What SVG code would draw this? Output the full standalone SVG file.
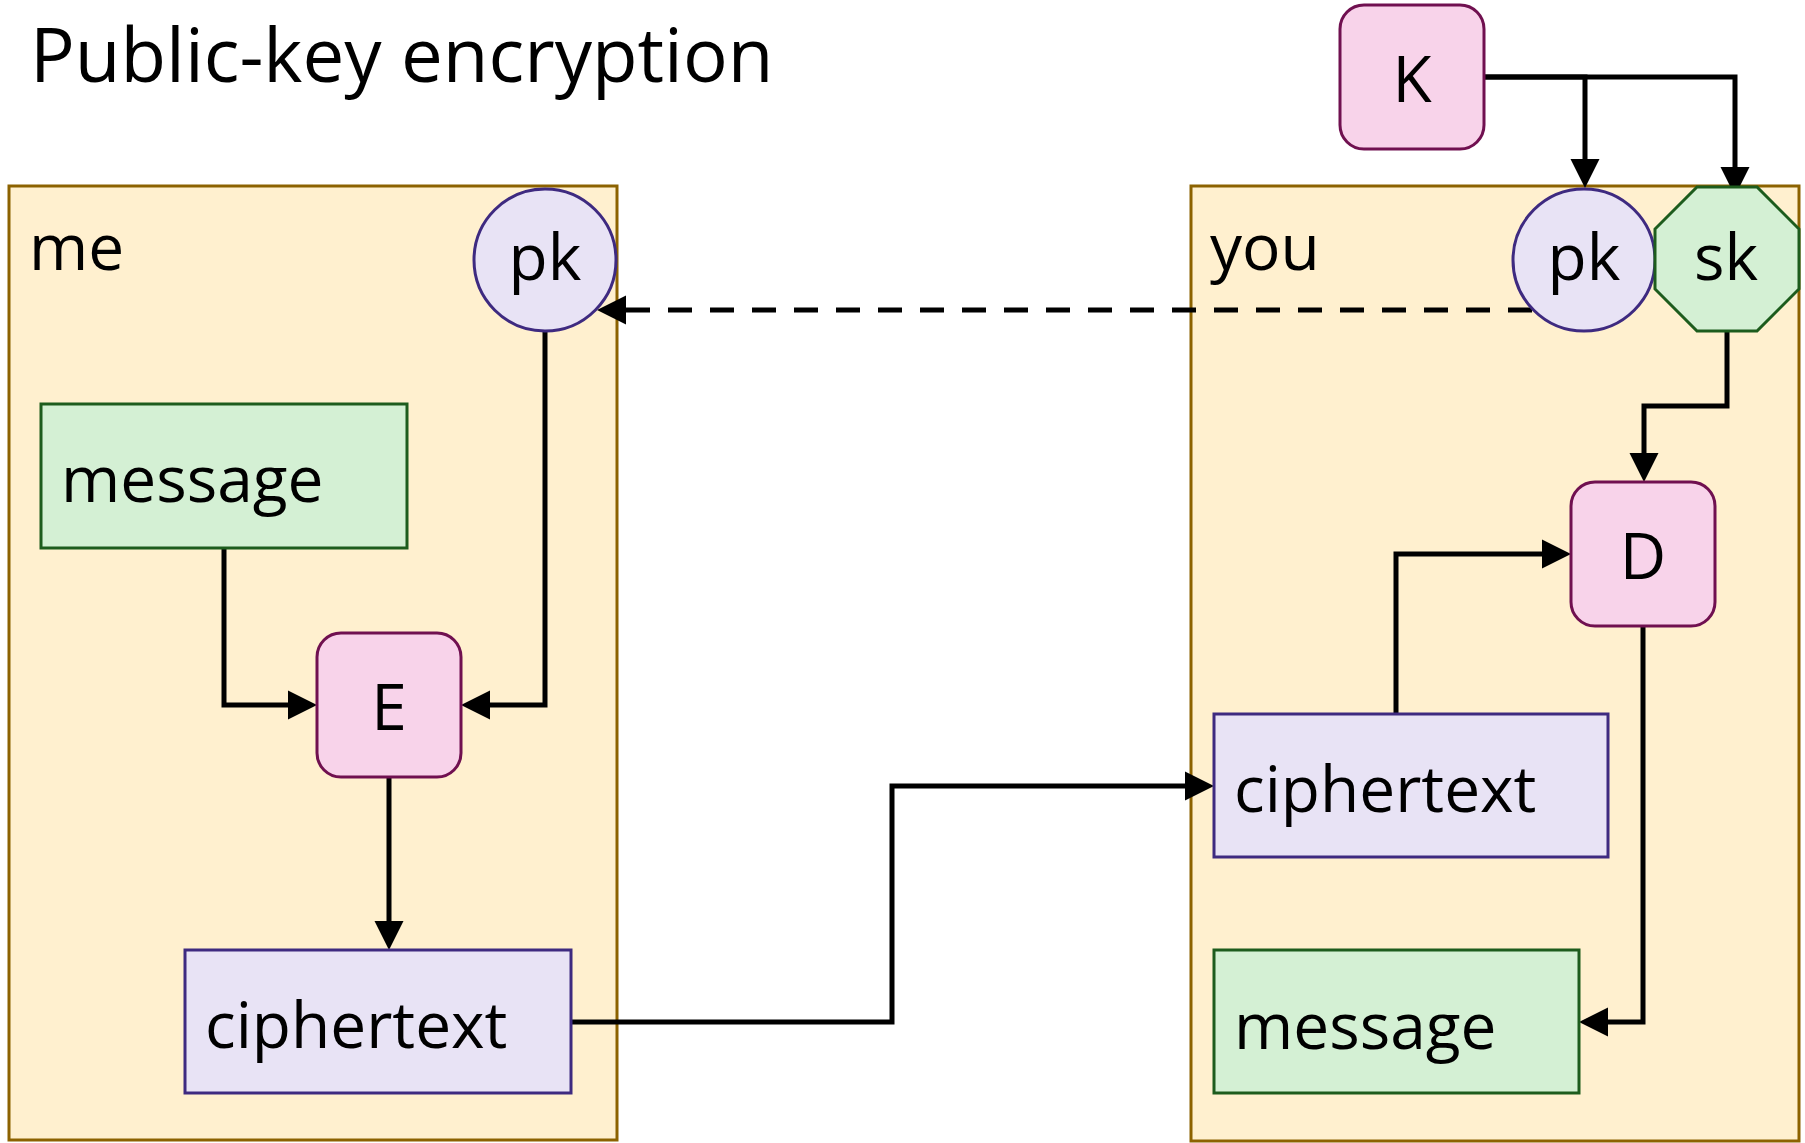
<svg xmlns="http://www.w3.org/2000/svg" width="1805" height="1143" viewBox="0 0 1805 1143">
<style>
text{font-family:"Open Sans","Noto Sans","Liberation Sans",sans-serif;font-size:64px;fill:#000}
.title{font-size:74.5px}
.mid{text-anchor:middle}
.frame{fill:#fff0cf;stroke:#8c6200;stroke-width:3}
.pink{fill:#f8d3ea;stroke:#701050;stroke-width:3}
.lav{fill:#e8e3f5;stroke:#3e2a80;stroke-width:3}
.grn{fill:#d4f0d4;stroke:#1d5c1d;stroke-width:3}
.con{fill:none;stroke:#000;stroke-width:5;marker-end:url(#arr)}
.dash{stroke-dasharray:24 18}
</style>
<defs>
<marker id="arr" markerUnits="userSpaceOnUse" markerWidth="30" markerHeight="30" refX="0" refY="14.5" orient="auto" overflow="visible">
<path d="M0,0 L29,14.5 L0,29 z" fill="#000"/>
</marker>
</defs>
<rect width="1805" height="1143" fill="#fff"/>
<text class="title" x="30" y="82">Public-key encryption</text>
<g id="frame-me"><rect class="frame" x="9" y="186" width="608" height="954"/><text x="29" y="270">me</text></g>
<g id="frame-you"><rect class="frame" x="1191" y="186" width="608" height="955"/><text x="1210" y="270">you</text></g>
<g id="connectors">
<path class="con" d="M224,548 V705 H288"/>
<path class="con" d="M545,332 V705 H490"/>
<path class="con" d="M389,777 V921"/>
<path class="con" d="M571,1022 H892 V786 H1185"/>
<path class="con dash" d="M1532,310 H626"/>
<path class="con" d="M1484,77 H1585 V159"/>
<path class="con" d="M1484,77 H1735 V167"/>
<path class="con" d="M1727,331 V406 H1644 V453"/>
<path class="con" d="M1396,714 V554 H1542"/>
<path class="con" d="M1643,626 V1022 H1608"/>
</g>
<g id="pk-me"><circle class="lav" cx="545" cy="260" r="71"/><text class="mid" x="545" y="280">pk</text></g>
<g id="message-me"><rect class="grn" x="41" y="404" width="366" height="144"/><text x="61" y="502">message</text></g>
<g id="E"><rect class="pink" x="317" y="633" width="144" height="144" rx="24"/><text class="mid" x="389" y="730">E</text></g>
<g id="ciphertext-me"><rect class="lav" x="185" y="950" width="386" height="143"/><text x="205" y="1048">ciphertext</text></g>
<g id="K"><rect class="pink" x="1340" y="5" width="144" height="144" rx="24"/><text class="mid" x="1412" y="102">K</text></g>
<g id="pk-you"><circle class="lav" cx="1584" cy="260" r="71"/><text class="mid" x="1584" y="280">pk</text></g>
<g id="sk"><polygon class="grn" points="1697,187 1757,187 1799,229 1799,289 1757,331 1697,331 1655,289 1655,229"/><text class="mid" x="1726" y="280">sk</text></g>
<g id="D"><rect class="pink" x="1571" y="482" width="144" height="144" rx="24"/><text class="mid" x="1643" y="579">D</text></g>
<g id="ciphertext-you"><rect class="lav" x="1214" y="714" width="394" height="143"/><text x="1234" y="812">ciphertext</text></g>
<g id="message-you"><rect class="grn" x="1214" y="950" width="365" height="143"/><text x="1234" y="1049">message</text></g>
</svg>
